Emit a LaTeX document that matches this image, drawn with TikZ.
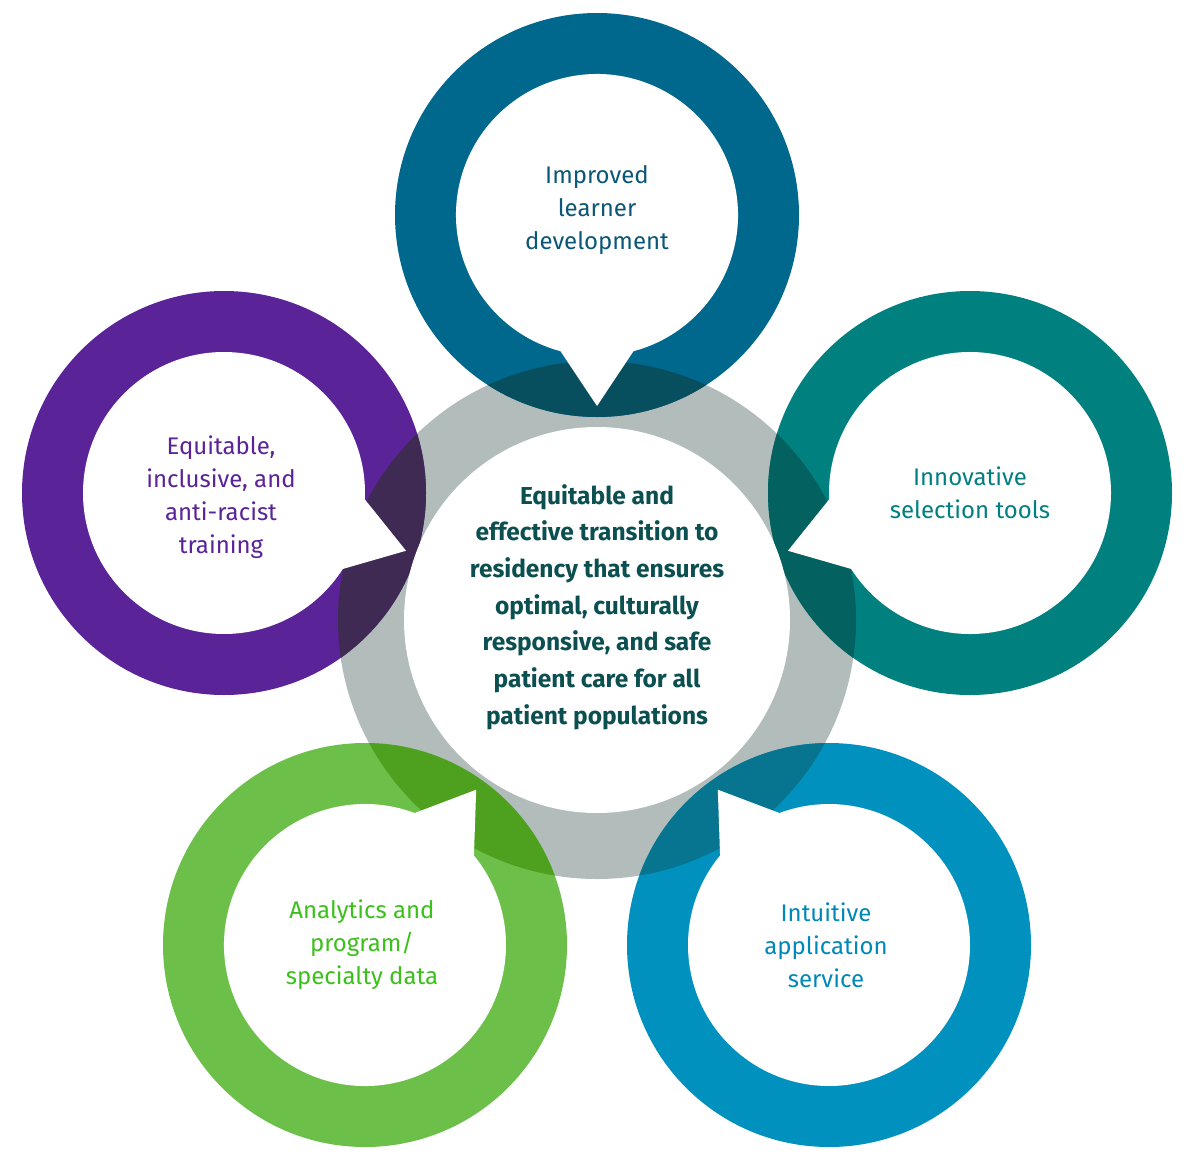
\documentclass[tikz,border=0pt]{standalone}
\usepackage{fontspec}
\setmainfont{Fira Sans}
\usetikzlibrary{calc}
\begin{document}
\begin{tikzpicture}[x=1pt,y=1pt,
  lbl/.style={align=center,font=\fontsize{24}{33}\selectfont},
  ctr/.style={align=center,text=ctrcol,font=\fontsize{24.5}{36.7}\selectfont\bfseries}]
\definecolor{grayring}{HTML}{B1BCBB}
\definecolor{ctop}{HTML}{00688C}\definecolor{otop}{HTML}{074F5F}
\definecolor{crgt}{HTML}{00807F}\definecolor{orgt}{HTML}{03615F}
\definecolor{clft}{HTML}{5B2398}\definecolor{olft}{HTML}{3F2A53}
\definecolor{cgrn}{HTML}{6CC04A}\definecolor{ogrn}{HTML}{4EA01F}
\definecolor{cblu}{HTML}{0091BF}\definecolor{oblu}{HTML}{087590}
\definecolor{ttop}{HTML}{0B5777}\definecolor{tgrn}{HTML}{3CC01C}
\definecolor{tblu}{HTML}{0088B9}\definecolor{ctrcol}{HTML}{0B4F50}
\useasboundingbox (0,0) rectangle (1200,-1173);
\coordinate (Ct) at (597,-215);
\coordinate (Cr) at (970,-493);
\coordinate (Cl) at (224,-493);
\coordinate (Cg) at (365,-945);
\coordinate (Cb) at (829,-945);
\def\inner#1#2{(#1) ++(#2+15:141pt) arc[start angle=#2+15,end angle=#2+345,radius=141pt] -- ($(#1)+(#2:191pt)$) -- cycle}
\def\ringlist{Ct/-90,Cr/197.6,Cl/-17.6,Cg/54.4,Cb/125.6}
\fill[grayring] (597,-620) circle[radius=259pt];
\foreach \c/\col in {Ct/ctop,Cr/crgt,Cl/clft,Cg/cgrn,Cb/cblu}
  \fill[\col] (\c) circle[radius=202pt];
\begin{scope}
\clip (597,-620) circle[radius=259pt];
\foreach \c/\col in {Ct/otop,Cr/orgt,Cl/olft,Cg/ogrn,Cb/oblu}
  \fill[\col] (\c) circle[radius=202pt];
\end{scope}
\foreach \c/\a in \ringlist
  \fill[white] \inner{\c}{\a};
\fill[white] (597,-620) circle[radius=193pt];
\node[lbl,text=ttop] (lt) at (597,-210) {Improved\\learner\\development};
\node[lbl,text=crgt] (lr) at (970,-493) {Innovative\\selection tools};
\node[lbl,text=clft] (ll) at (221,-497) {Equitable,\\inclusive, and\\anti-racist\\training};
\node[lbl,text=tgrn] (lg) at (362,-945) {Analytics and\\program/\\specialty data};
\node[lbl,text=tblu] (lb) at (826,-945) {Intuitive\\application\\service};
\node[ctr] (cc) at (597,-607) {Equitable and\\effective transition to\\residency that ensures\\optimal, culturally\\responsive, and safe\\patient care for all\\patient populations};
\end{tikzpicture}
\end{document}
